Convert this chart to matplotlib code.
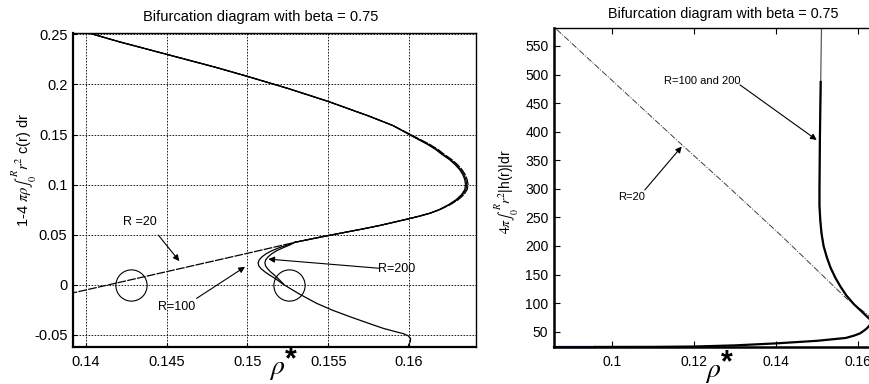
import matplotlib
matplotlib.use("Agg")
import matplotlib.pyplot as plt

plt.rcParams["font.family"] = ["Liberation Sans", "DejaVu Sans"]
plt.rcParams["mathtext.fontset"] = "stix"

TITLE = "Bifurcation diagram with beta = 0.75"

# ---- left panel: 1 - 4 pi rho int r^2 c(r) dr vs rho* ----
# shared upper branch
top_x = [0.1395, 0.1420, 0.1450, 0.1480, 0.1500, 0.1525, 0.1550, 0.1575, 0.1590]
top_y = [0.2545, 0.2428, 0.2300, 0.2172, 0.2080, 0.1960, 0.1830, 0.1685, 0.1590]

# the fold near rho* = 0.1636 (three radii, slightly apart)
nose_y = [0.150, 0.145, 0.140, 0.135, 0.130, 0.125, 0.120, 0.115, 0.110,
          0.105, 0.100, 0.095, 0.090, 0.085, 0.080, 0.075]
nose20_x = [0.16010, 0.16070, 0.16130, 0.16180, 0.16220, 0.16265, 0.16300, 0.16328,
            0.16348, 0.16360, 0.16366, 0.16360, 0.16340, 0.16305, 0.16255, 0.16190]
nose100_x = [0.16005, 0.16064, 0.16123, 0.16172, 0.16212, 0.16257, 0.16292, 0.16320,
             0.16340, 0.16352, 0.16358, 0.16352, 0.16332, 0.16298, 0.16250, 0.16188]
nose200_x = [0.16000, 0.16058, 0.16116, 0.16165, 0.16205, 0.16250, 0.16285, 0.16313,
             0.16333, 0.16345, 0.16350, 0.16345, 0.16325, 0.16292, 0.16245, 0.16186]

# shared middle branch back towards small rho*
mid_x = [0.1613, 0.1607, 0.1600, 0.1592, 0.1582, 0.1572, 0.1561, 0.1551, 0.1541, 0.1531]
mid_y = [0.0715, 0.0688, 0.0660, 0.0630, 0.0593, 0.0560, 0.0526, 0.0495, 0.0463, 0.0430]

tail20_x = [0.1531, 0.1500, 0.1450, 0.1392]
tail20_y = [0.0430, 0.0315, 0.0132, -0.0080]

tail100_x = [0.15300, 0.15250, 0.15195, 0.15150, 0.15115, 0.15090, 0.15073, 0.15066,
             0.15070, 0.15085, 0.15108, 0.15135, 0.15175, 0.15222, 0.15320, 0.15429,
             0.15530, 0.15635, 0.15740, 0.15841, 0.15910, 0.15965, 0.15995, 0.16010,
             0.16008, 0.15998, 0.15990]
tail100_y = [0.0430, 0.0400, 0.0370, 0.0340, 0.0310, 0.0280, 0.0250, 0.0220,
             0.0190, 0.0160, 0.0130, 0.0100, 0.0060, 0.0005, -0.0090, -0.0185,
             -0.0255, -0.0318, -0.0378, -0.0434, -0.0464, -0.0487, -0.0508, -0.0535,
             -0.0565, -0.0600, -0.0640]
tail200_x = [0.15300, 0.15265, 0.15220, 0.15180, 0.15150, 0.15128, 0.15113, 0.15108,
             0.15112, 0.15125, 0.15143, 0.15165, 0.15192, 0.15225]
tail200_y = [0.0430, 0.0400, 0.0370, 0.0340, 0.0310, 0.0280, 0.0250, 0.0220,
             0.0190, 0.0160, 0.0130, 0.0100, 0.0060, 0.0005]

circle_x = [0.1428, 0.15257]
circle_y = [0.0, 0.0]

left_xticks = [0.14, 0.145, 0.15, 0.155, 0.16]
left_xlabels = ["0.14", "0.145", "0.15", "0.155", "0.16"]
left_yticks = [-0.05, 0.0, 0.05, 0.1, 0.15, 0.2, 0.25]
left_ylabels = ["-0.05", "0", "0.05", "0.1", "0.15", "0.2", "0.25"]

# ---- right panel: 4 pi int r^2 |h(r)| dr vs rho* ----
r20_x = [0.0865, 0.1166, 0.1271, 0.1410, 0.1491, 0.1572, 0.1627]
r20_y = [579, 380, 312, 220, 164, 108, 78]

r100_x = [0.1511, 0.1509, 0.1507, 0.1506, 0.1506, 0.1508, 0.1511, 0.1516, 0.1524,
          0.1533, 0.1545, 0.1558, 0.1572, 0.1590, 0.1605, 0.1627]
r100_y = [585, 487, 385, 300, 270, 245, 222, 200, 180, 162, 144, 128, 113, 98, 88, 73]
r200_x = [0.1509, 0.1507, 0.1506, 0.1506, 0.1508, 0.1511, 0.1516, 0.1524,
          0.1533, 0.1545, 0.1558, 0.1572, 0.1590, 0.1605, 0.1627]
r200_y = [487, 385, 300, 270, 245, 222, 200, 180, 162, 144, 128, 113, 98, 88, 73]

low_x = [0.0959, 0.1100, 0.1200, 0.1300, 0.1400, 0.1500, 0.1570, 0.1590, 0.1605,
         0.1615, 0.1622, 0.1627]
low_y = [23.3, 23.4, 24.0, 26.0, 29.5, 34.0, 39.0, 43.0, 47.0, 52.0, 56.0, 60.0]
blue_x = [0.0859, 0.0959]
blue_y = [23.3, 23.3]

right_xticks = [0.1, 0.12, 0.14, 0.16]
right_xlabels = ["0.1", "0.12", "0.14", "0.16"]
right_yticks = [50, 100, 150, 200, 250, 300, 350, 400, 450, 500, 550]

W, H = 869, 384
fig = plt.figure(figsize=(W / 100, H / 100), dpi=100)

# left
ax = fig.add_axes([0.0840, 0.0971, 0.4638, 0.8170])
ax.plot(top_x + nose20_x + mid_x + tail20_x, top_y + nose_y + mid_y + tail20_y,
        color="black", lw=0.9, linestyle=(0, (7, 1)))
ax.plot(top_x + nose100_x + mid_x + tail100_x, top_y + nose_y + mid_y + tail100_y,
        color="black", lw=0.9)
ax.plot(top_x + nose200_x + mid_x + tail200_x, top_y + nose_y + mid_y + tail200_y,
        color="black", lw=0.9)
ax.plot(circle_x, circle_y, linestyle="none", marker="o", markersize=22.5,
        markerfacecolor="none", markeredgecolor="black", markeredgewidth=0.8)

arrow = dict(arrowstyle="-|>", color="black", lw=0.8, mutation_scale=9,
             shrinkA=0, shrinkB=0)
ax.annotate("", xy=(0.14578, 0.0237), xytext=(0.14448, 0.0497), arrowprops=arrow)
ax.text(0.14334, 0.0624, "R =20", fontsize=9, ha="center", va="center")
ax.annotate("", xy=(0.14985, 0.0180), xytext=(0.14685, -0.0135), arrowprops=arrow)
ax.text(0.14561, -0.0218, "R=100", fontsize=9, ha="center", va="center")
ax.annotate("", xy=(0.15129, 0.0257), xytext=(0.15820, 0.0165), arrowprops=arrow)
ax.text(0.15924, 0.0155, "R=200", fontsize=9, ha="center", va="center")

ax.set_xlim(0.1392, 0.16415)
ax.set_ylim(-0.0617, 0.2513)
ax.set_xticks(left_xticks, left_xlabels)
ax.set_yticks(left_yticks, left_ylabels)
ax.tick_params(direction="in", length=3, labelsize=10.5, pad=4)
ax.tick_params(axis="x", pad=6)
ax.grid(True, color="black", linestyle=(0, (2, 1.6)), lw=0.6)
for s in ax.spines.values():
    s.set_linewidth(1.0)
ax.spines["left"].set_linewidth(1.6)
ax.spines["bottom"].set_linewidth(1.6)
fig.text(24 / W, 1 - 170 / H, r"1-4 $\pi\rho\int_0^R r^2$ c(r) dr", fontsize=10.5,
         rotation=90, ha="center", va="center")
fig.text(261 / W, 1 - 17 / H, TITLE, fontsize=10.5, ha="center", va="center")
fig.text(277 / W, 1 - 369 / H, r"$\rho$", fontsize=20, ha="center", va="center")
fig.text(291 / W, 1 - 360 / H, "*", fontsize=22, fontweight="bold",
         ha="center", va="center")

# right
bx = fig.add_axes([0.6375, 0.0964, 0.3625, 0.8307])
bx.plot(r20_x, r20_y, color="0.25", lw=0.7, linestyle="-.")
bx.plot(r100_x, r100_y, color="0.35", lw=0.9)
bx.plot(r200_x, r200_y, color="black", lw=1.6)
bx.plot(low_x, low_y, color="black", lw=1.6)
bx.plot(blue_x, blue_y, color="navy", lw=1.6, clip_on=False)

bx.annotate("", xy=(0.14993, 385.5), xytext=(0.1312, 482), arrowprops=arrow)
bx.text(0.1221, 489, "R=100 and 200", fontsize=8, ha="center", va="center")
bx.annotate("", xy=(0.1170, 374), xytext=(0.1080, 298), arrowprops=arrow)
bx.text(0.1048, 285, "R=20", fontsize=8, ha="center", va="center")

bx.set_xlim(0.08585, 0.16268)
bx.set_ylim(23.2, 581.5)
bx.set_xticks(right_xticks, right_xlabels)
bx.set_yticks(right_yticks)
bx.tick_params(direction="in", length=4, labelsize=10, pad=4, top=True)
bx.tick_params(axis="x", pad=6)
bx.spines["right"].set_visible(False)
bx.spines["top"].set_linewidth(1.0)
bx.spines["left"].set_linewidth(1.8)
bx.spines["bottom"].set_linewidth(1.8)
fig.text(507 / W, 1 - 192 / H, r"$4\pi\int_0^R r^2$|h(r)|dr", fontsize=10,
         rotation=90, ha="center", va="center")
fig.text(723 / W, 1 - 14 / H, TITLE, fontsize=10.4, ha="center", va="center")
fig.text(713 / W, 1 - 372 / H, r"$\rho$", fontsize=20, ha="center", va="center")
fig.text(727 / W, 1 - 363 / H, "*", fontsize=22, fontweight="bold",
         ha="center", va="center")

fig.savefig("out.png", dpi=100)
